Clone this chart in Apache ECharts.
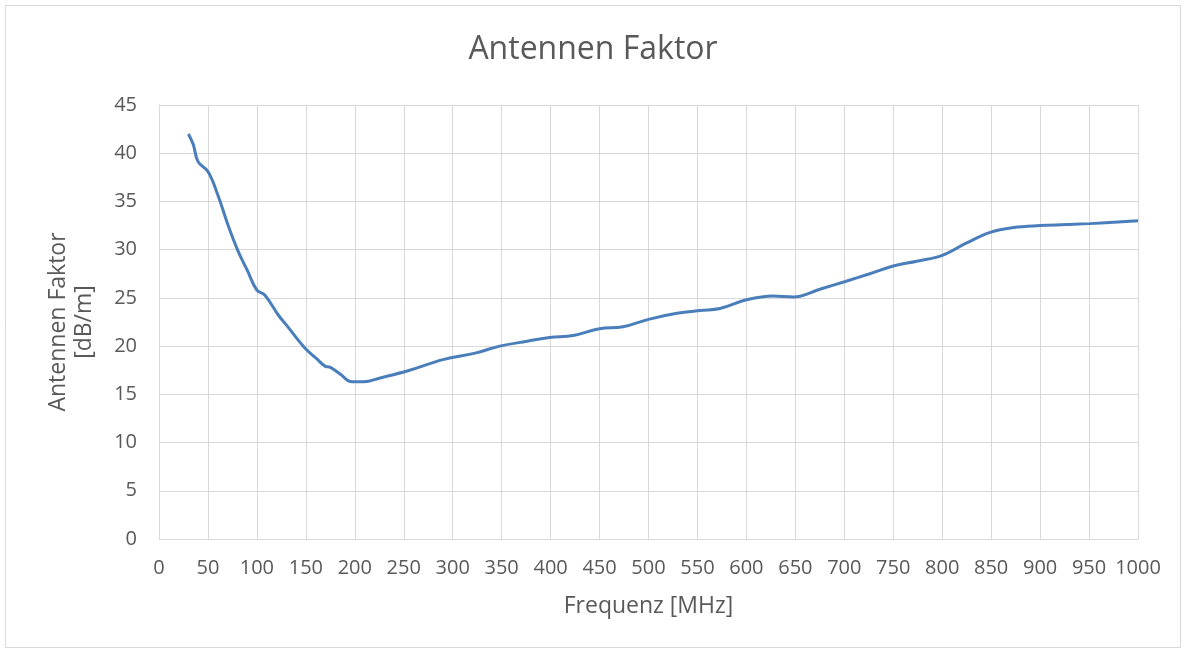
<!DOCTYPE html>
<html>
<head>
<meta charset="utf-8">
<script src="https://cdn.jsdelivr.net/npm/echarts@6/dist/echarts.min.js"></script>
<style>html,body{margin:0;padding:0;background:#fff}#c{width:1186px;height:652px}</style>
</head>
<body>
<div id="c"></div>
<script>
const titleText = 'Antennen Faktor';
const xAxisName = 'Frequenz [MHz]';
const yAxisName = 'Antennen Faktor\n[dB/m]';
const freq = [30, 35, 40, 50, 60, 70, 81, 90, 100, 108, 122, 130, 149, 161, 170, 175, 185, 197, 209, 226, 256, 290, 324, 348, 376, 399, 423, 450, 474, 501, 529, 553, 573, 600, 627, 648, 675, 701, 726, 750, 774, 800, 825, 849, 873, 900, 927, 951, 1000];
const faktor = [42.0, 40.9, 39.1, 38.1, 35.7, 32.7, 29.8, 27.9, 25.8, 25.3, 23.2, 22.2, 19.8, 18.7, 17.9, 17.8, 17.1, 16.3, 16.3, 16.7, 17.5, 18.6, 19.3, 20.0, 20.5, 20.9, 21.1, 21.8, 22.0, 22.8, 23.4, 23.7, 23.9, 24.8, 25.2, 25.1, 25.9, 26.7, 27.5, 28.3, 28.8, 29.4, 30.7, 31.8, 32.3, 32.5, 32.6, 32.7, 33.0];

const chart = echarts.init(document.getElementById('c'), null, {renderer: 'canvas'});
const font = 'Open Sans, Liberation Sans, sans-serif';
chart.setOption({
  animation: false,
  backgroundColor: '#fff',
  graphic: [{type: 'rect', shape: {x: 5.5, y: 5.5, width: 1175, height: 642}, style: {fill: 'none', stroke: '#d9d9d9', lineWidth: 1}, silent: true}],
  title: {text: titleText, left: 'center', top: 29, textStyle: {fontFamily: font, fontSize: 32, fontWeight: 'normal', color: '#595959'}},
  grid: {left: 159, right: 48, top: 105, bottom: 113, containLabel: false},
  xAxis: {
    type: 'value', min: 0, max: 1000, interval: 50,
    name: xAxisName, nameLocation: 'middle', nameGap: 56,
    nameTextStyle: {fontFamily: font, fontSize: 23, color: '#595959'},
    axisLine: {show: true, lineStyle: {color: '#d9d9d9', width: 1}},
    axisTick: {show: false},
    axisLabel: {fontFamily: font, fontSize: 20, color: '#595959', margin: 19, formatter: v => String(v)},
    splitLine: {show: true, lineStyle: {color: '#d9d9d9', width: 1}}
  },
  yAxis: {
    type: 'value', min: 0, max: 45, interval: 5,
    name: yAxisName, nameLocation: 'middle', nameGap: 62, nameRotate: 90,
    nameTextStyle: {fontFamily: font, fontSize: 23, color: '#595959', lineHeight: 26},
    axisLine: {show: true, lineStyle: {color: '#d9d9d9', width: 1}},
    axisTick: {show: false},
    axisLabel: {fontFamily: font, fontSize: 20, color: '#595959', margin: 22},
    splitLine: {show: true, lineStyle: {color: '#d9d9d9', width: 1}}
  },
  series: [{
    type: 'line', smooth: 0.4, showSymbol: false,
    data: freq.map((f, i) => [f, faktor[i]]),
    lineStyle: {color: '#4a7ebb', width: 3}
  }]
});
</script>
</body>
</html>
